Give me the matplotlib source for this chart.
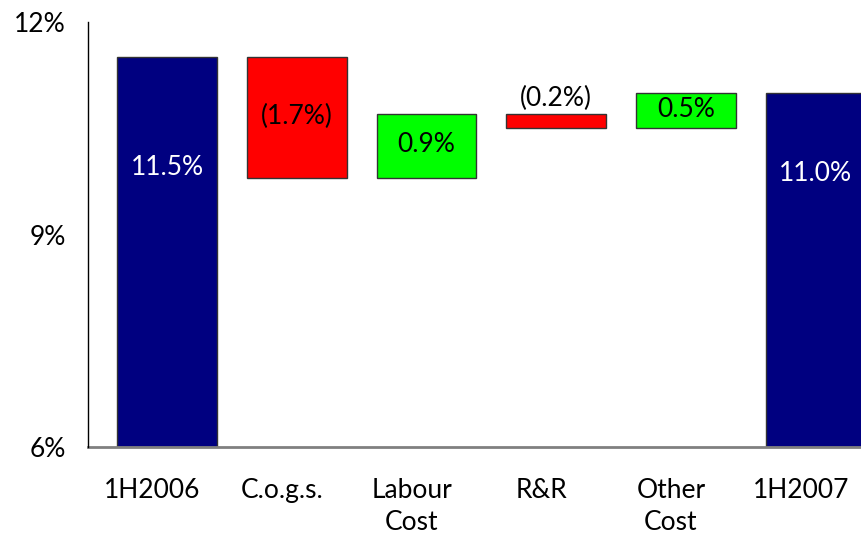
import matplotlib
matplotlib.use("Agg")
import matplotlib.pyplot as plt
import matplotlib.transforms as mtransforms
import numpy as np

categories = ["1H2006", "C.o.g.s.", "Labour\nCost", "R&R", "Other\nCost", "1H2007"]
start_value = 11.5
changes = [-1.7, 0.9, -0.2, 0.5]
end_value = 11.0
value_labels = ["11.5%", "(1.7%)", "0.9%", "(0.2%)", "0.5%", "11.0%"]
y_ticks = [6, 9, 12]
y_tick_labels = ["6%", "9%", "12%"]

plt.rcParams['font.family'] = ['Lato', 'DejaVu Sans']

fig = plt.figure(figsize=(8.61, 5.33), dpi=100)
ax = fig.add_axes([88/861, 86/533, (861-88)/861, 425/533])

axis_min = y_ticks[0]
bottoms, heights, colors = [], [], []
bottoms.append(axis_min); heights.append(start_value - axis_min); colors.append("#000080")
level = start_value
for c in changes:
    new = level + c
    bottoms.append(min(level, new)); heights.append(abs(c))
    colors.append("#FF0000" if c < 0 else "#00FF00")
    level = new
bottoms.append(axis_min); heights.append(end_value - axis_min); colors.append("#000080")

x = np.arange(len(categories))
ax.bar(x, heights, bottom=bottoms, width=0.77, color=colors,
       edgecolor="#333333", linewidth=1.0, zorder=2)

# value labels
for i, (b, h, lab) in enumerate(zip(bottoms, heights, value_labels)):
    if i == 0 or i == len(categories) - 1:
        ax.annotate(lab, (x[i], b + h), xytext=(0, -110 if i == 0 else -81),
                    textcoords="offset pixels", ha="center", va="center",
                    color="white", fontsize=19)
    elif h < 0.3:
        ax.annotate(lab, (x[i], b + h), xytext=(0, 16),
                    textcoords="offset pixels", ha="center", va="center",
                    color="black", fontsize=19)
    else:
        ax.text(x[i], b + h / 2 + 0.02, lab, ha="center", va="center",
                color="black", fontsize=19)

ax.set_xlim(-0.61, 5.35)
ax.set_ylim(6, 12)
ax.set_yticks(y_ticks)
ax.set_yticklabels(y_tick_labels, fontsize=19)
ax.set_xticks(x)
ax.set_xticklabels(categories, fontsize=19, linespacing=1.35)
ax.tick_params(axis="both", length=0)
ax.tick_params(axis="x", pad=22)
ax.tick_params(axis="y", pad=16)

shift = mtransforms.ScaledTranslation(-15/100, 0, fig.dpi_scale_trans)
for lbl in ax.get_xticklabels():
    lbl.set_transform(lbl.get_transform() + shift)

for s in ["top", "right"]:
    ax.spines[s].set_visible(False)
ax.spines["left"].set_color("black")
ax.spines["left"].set_linewidth(1.0)
ax.spines["bottom"].set_color("#808080")
ax.spines["bottom"].set_linewidth(2.0)
ax.spines["left"].set_zorder(3)

fig.savefig("out.png", dpi=100)
